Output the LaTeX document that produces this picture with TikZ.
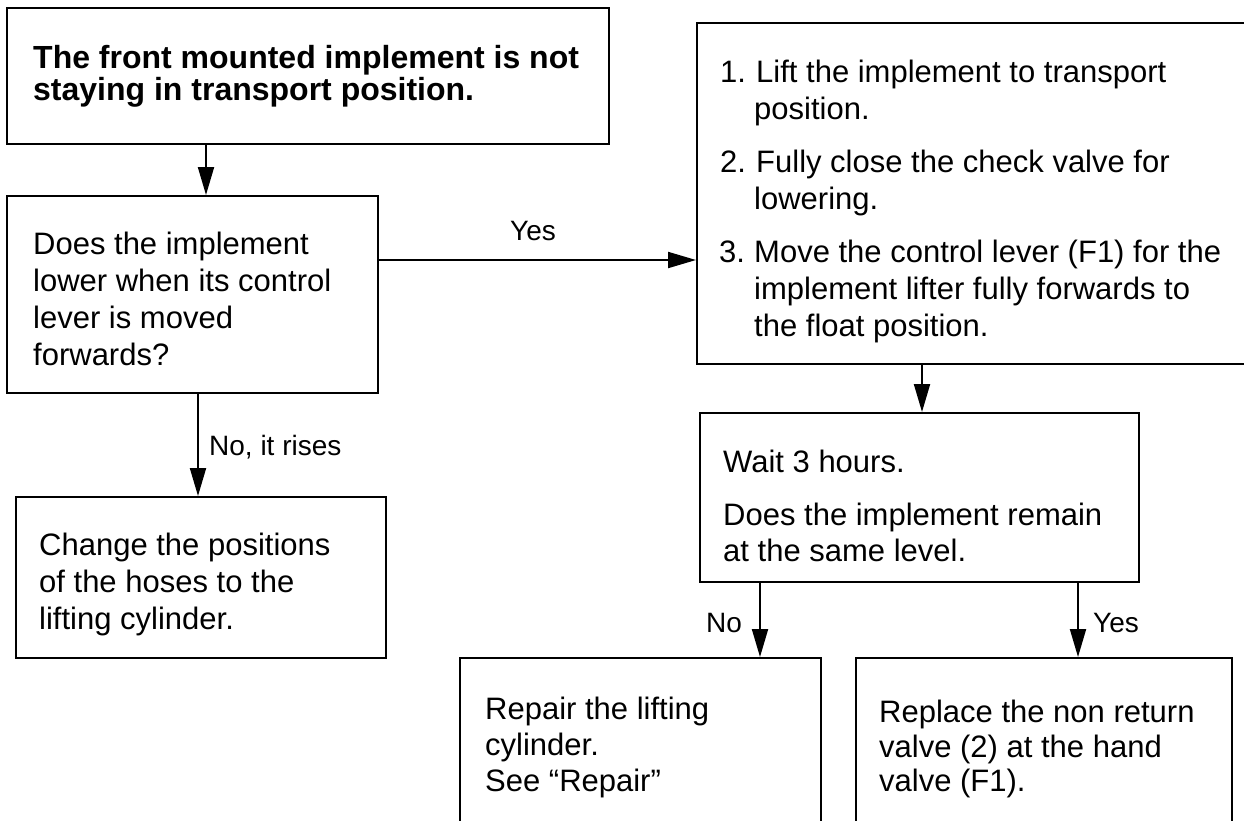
\documentclass[tikz,border=0pt]{standalone}
\usepackage{fontspec}
\setmainfont{Liberation Sans}
\usetikzlibrary{arrows.meta}
\begin{document}
\begin{tikzpicture}[x=1pt,y=-1pt,
  box/.style={draw, line width=2pt, rectangle, inner sep=0pt},
  arr/.style={line width=2pt, -{Triangle[length=28pt,width=16pt]}},
  txt/.style={anchor=base west, inner sep=0pt, font=\fontsize{31}{37}\selectfont},
  btxt/.style={anchor=base west, inner sep=0pt, font=\fontsize{32}{32}\selectfont\bfseries},
  lbl/.style={anchor=base, inner sep=0pt, font=\fontsize{28}{32}\selectfont}]
\useasboundingbox (0,0) rectangle (1244,820);

% boxes
\node[box, minimum width=602pt, minimum height=136pt] (b1) at (308,76) {};
\node[box, minimum width=371pt, minimum height=197pt] (b2) at (192.5,294.5) {};
\node[box, minimum width=370pt, minimum height=161pt] (b3) at (201,577.5) {};
\node[box, minimum width=553pt, minimum height=341pt] (b4) at (973.5,193.5) {};
\node[box, minimum width=439pt, minimum height=169pt] (b5) at (919.5,497.5) {};
\node[box, minimum width=361pt, minimum height=172pt] (b6) at (640.5,744) {};
\node[box, minimum width=376pt, minimum height=172pt] (b7) at (1044,744) {};

% texts
\node[btxt] (t1a) at (33,68) {The front mounted implement is not};
\node[btxt] (t1b) at (33,100) {staying in transport position.};

\node[txt] (t2a) at (33,254) {Does the implement};
\node[txt] (t2b) at (33,291) {lower when its control};
\node[txt] (t2c) at (33,328) {lever is moved};
\node[txt] (t2d) at (33,365) {forwards?};

\node[txt] (t3a) at (39,555) {Change the positions};
\node[txt] (t3b) at (39,592) {of the hoses to the};
\node[txt] (t3c) at (39,629) {lifting cylinder.};

\node[txt] (n1) at (720,82) {1.};
\node[txt] (t4a) at (756,82) {Lift the implement to transport};
\node[txt] (t4b) at (754,119) {position.};
\node[txt] (n2) at (720,172) {2.};
\node[txt] (t4c) at (756,172) {Fully close the check valve for};
\node[txt] (t4d) at (754,209) {lowering.};
\node[txt] (n3) at (719,262) {3.};
\node[txt] (t4e) at (754,262) {Move the control lever (F1) for the};
\node[txt] (t4f) at (754,299) {implement lifter fully forwards to};
\node[txt] (t4g) at (754,336) {the float position.};

\node[txt] (t5a) at (723,472) {Wait 3 hours.};
\node[txt] (t5b) at (723,525) {Does the implement remain};
\node[txt] (t5c) at (723,561) {at the same level.};

\node[txt] (t6a) at (485,719) {Repair the lifting};
\node[txt] (t6b) at (485,755) {cylinder.};
\node[txt] (t6c) at (485,791) {See “Repair”};

\node[txt] (t7a) at (879,722) {Replace the non return};
\node[txt] (t7b) at (879,757) {valve (2) at the hand};
\node[txt] (t7c) at (879,791) {valve (F1).};

% connector x positions
\coordinate (x1) at (206,0);
\coordinate (x2) at (198,0);
\coordinate (x3) at (922,0);
\coordinate (x4) at (760,0);
\coordinate (x5) at (1078,0);
\coordinate (y1) at (0,260);

% connectors
\draw[arr] (x1 |- b1.south) -- (x1 |- b2.north);
\draw[arr] (b2.east |- y1) -- (b4.west |- y1);
\draw[arr] (x2 |- b2.south) -- (x2 |- b3.north);
\draw[arr] (x3 |- b4.south) -- (x3 |- b5.north);
\draw[arr] (x4 |- b5.south) -- (x4 |- b6.north);
\draw[arr] (x5 |- b5.south) -- (x5 |- b7.north);

% labels
\node[lbl] (l1) at (533,240) {Yes};
\node[lbl, anchor=base west] (l2) at (209,455) {No, it rises};
\node[lbl] (l3) at (724,632) {No};
\node[lbl] (l4) at (1116,632) {Yes};
\end{tikzpicture}
\end{document}
